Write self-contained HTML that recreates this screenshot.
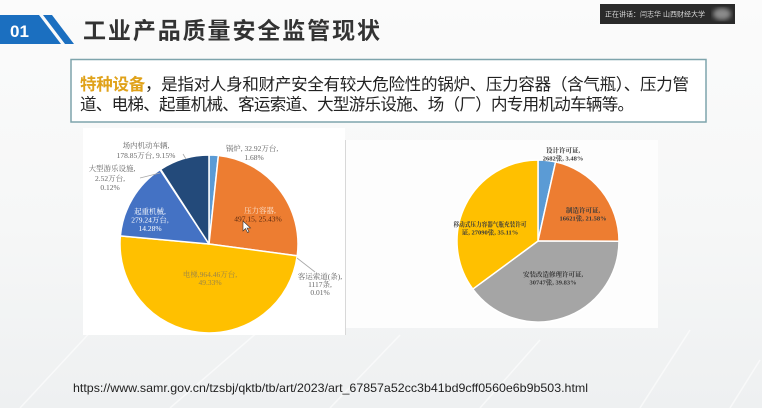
<!DOCTYPE html>
<html><head><meta charset="utf-8"><style>
html,body{margin:0;padding:0;width:762px;height:408px;overflow:hidden;background:#f4f5f6}
svg{display:block}
</style></head><body>
<svg width="762" height="408" viewBox="0 0 762 408" xmlns="http://www.w3.org/2000/svg">
<defs>
<linearGradient id="bg" x1="0" y1="0" x2="0" y2="1">
<stop offset="0" stop-color="#fbfbfb"/><stop offset="0.55" stop-color="#f6f7f7"/><stop offset="1" stop-color="#eef0f1"/>
</linearGradient>
<filter id="blur"><feGaussianBlur stdDeviation="2.5"/></filter>
</defs>
<rect width="762" height="408" fill="url(#bg)"/>
<g stroke="#ffffff" stroke-width="1.5" opacity="0.6" fill="none">
<path d="M20 408 L120 300"/><path d="M170 408 L260 330"/><path d="M330 408 L400 335"/><path d="M480 408 L540 340"/><path d="M640 408 L690 330"/><path d="M730 408 L760 360"/>
</g>
<!-- header -->
<polygon points="0,15 39,15 61,44 0,44" fill="#1b6fc0"/>
<polygon points="43,15 52,15 74,44 65,44" fill="#1b6fc0"/>
<text x="10" y="37" font-family="Liberation Sans, sans-serif" font-weight="bold" font-size="17" fill="#ffffff">01</text>
<text x="83" y="38.5" font-family="Liberation Sans, Noto Sans CJK SC, sans-serif" font-weight="bold" font-size="23" fill="#333333" textLength="297" lengthAdjust="spacing">工业产品质量安全监管现状</text>
<!-- webcam -->
<rect x="600" y="4" width="135" height="20" fill="#2a2a2a"/>
<text x="605" y="16.5" font-family="Liberation Sans, Noto Sans CJK SC, sans-serif" font-size="7" fill="#d8d8d8" textLength="100" lengthAdjust="spacingAndGlyphs">正在讲话：闫志华 山西财经大学</text>
<ellipse cx="722" cy="14" rx="9" ry="6" fill="#8a8a8a" filter="url(#blur)"/>
<!-- text box -->
<rect x="71" y="59.5" width="635" height="62.5" fill="#ffffff" stroke="#7ea4ac" stroke-width="1.5"/>
<text x="80" y="90" font-family="Liberation Sans, Noto Sans CJK SC, sans-serif" font-size="16.5" fill="#222222" textLength="609" lengthAdjust="spacing"><tspan fill="#e0a21a" font-weight="bold">特种设备</tspan>，是指对人身和财产安全有较大危险性的锅炉、压力容器（含气瓶）、压力管</text>
<text x="80" y="110" font-family="Liberation Sans, Noto Sans CJK SC, sans-serif" font-size="16.5" fill="#222222" textLength="554" lengthAdjust="spacing">道、电梯、起重机械、客运索道、大型游乐设施、场（厂）内专用机动车辆等。</text>
<!-- panels -->
<rect x="83" y="128" width="262" height="207" fill="#ffffff"/>
<rect x="346" y="140" width="312" height="188" fill="#fdfdfd"/>
<line x1="345.5" y1="140" x2="345.5" y2="335" stroke="#d8d8d8" stroke-width="1"/>
<!-- left pie -->
<g stroke="#ffffff" stroke-width="1.5" stroke-linejoin="round">
<path d="M209,244 L209,155 A89,89 0 0 1 218.38,155.5 Z" fill="#5b9bd5"/>
<path d="M209,244 L218.38,155.5 A89,89 0 0 1 297.22,255.76 Z" fill="#ed7d31"/>
<path d="M209,244 L297.21,255.82 A89,89 0 0 1 120.37,235.9 Z" fill="#ffc000"/>
<path d="M209,244 L120.37,235.9 A89,89 0 0 1 160.04,169.68 Z" fill="#4472c4"/>
<path d="M209,244 L160.6,169.31 A89,89 0 0 1 209,155 Z" fill="#234a7a"/>
</g>
<g stroke="#a8a8a8" stroke-width="0.8" fill="none">
<path d="M183,154 L186,159"/><path d="M140,178 L160,173"/><path d="M297,258 L315,272"/>
</g>
<g font-family="Liberation Serif, Noto Serif CJK SC, serif" font-size="7.5" text-anchor="middle">
<g fill="#666666">
<text x="146" y="148">场内机动车辆,</text>
<text x="146" y="158">178.85万台, 9.15%</text>
<text x="252" y="151">锅炉, 32.92万台,</text>
<text x="254" y="160">1.68%</text>
<text x="112" y="171">大型游乐设施,</text>
<text x="110" y="181">2.52万台,</text>
<text x="110" y="190">0.12%</text>
<text x="320" y="279">客运索道(条),</text>
<text x="320" y="287">1117条,</text>
<text x="320" y="295">0.01%</text>
</g>
<g fill="#ffffff">
<text x="150" y="214">起重机械,</text>
<text x="150" y="222.5">279.24万台,</text>
<text x="150" y="231">14.28%</text>
<text x="260" y="213" fill="#fbe3d0">压力容器,</text>
</g>
<text x="258" y="221.5" fill="#5a2a10">497.15, 25.43%</text>
<text x="210" y="277" fill="#9a8448">电梯,964.46万台,</text>
<text x="210" y="285" fill="#9a8448">49.33%</text>
</g>
<!-- cursor -->
<path d="M243,221 L243,231 L245.5,228.5 L247.5,232.5 L249,231.8 L247,228 L250.5,228 Z" fill="#ffffff" stroke="#333" stroke-width="0.6"/>
<!-- right pie -->
<g stroke="#ffffff" stroke-width="1.5" stroke-linejoin="round">
<path d="M538,241 L538,160 A81,81 0 0 1 555.57,161.93 Z" fill="#5b9bd5"/>
<path d="M538,241 L555.57,161.93 A81,81 0 0 1 619,241.31 Z" fill="#ed7d31"/>
<path d="M538,241 L619,241.31 A81,81 0 0 1 472.81,289.08 Z" fill="#a5a5a5"/>
<path d="M538,241 L472.81,289.08 A81,81 0 0 1 538,160 Z" fill="#ffc000"/>
</g>
<g font-family="Liberation Serif, Noto Serif CJK SC, serif" font-size="6.5" text-anchor="middle" fill="#3a3a3a" font-weight="bold">
<text x="563" y="152.5">设计许可证,</text>
<text x="563" y="160.5">2682张, 3.48%</text>
<text x="583" y="212.5">制造许可证,</text>
<text x="583" y="220.5">16621张, 21.58%</text>
<text x="553" y="276.5">安装改造修理许可证,</text>
<text x="553" y="284.5">30747张, 39.83%</text>
<text x="490" y="226.5" textLength="73" lengthAdjust="spacingAndGlyphs">移动式压力容器气瓶充装许可</text>
<text x="490" y="234.5">证, 27090张, 35.11%</text>
</g>
<!-- url -->
<text x="73" y="392" font-family="Liberation Sans, sans-serif" font-size="12" fill="#222222" textLength="515" lengthAdjust="spacingAndGlyphs">https://www.samr.gov.cn/tzsbj/qktb/tb/art/2023/art_67857a52cc3b41bd9cff0560e6b9b503.html</text>
</svg>
</body></html>
